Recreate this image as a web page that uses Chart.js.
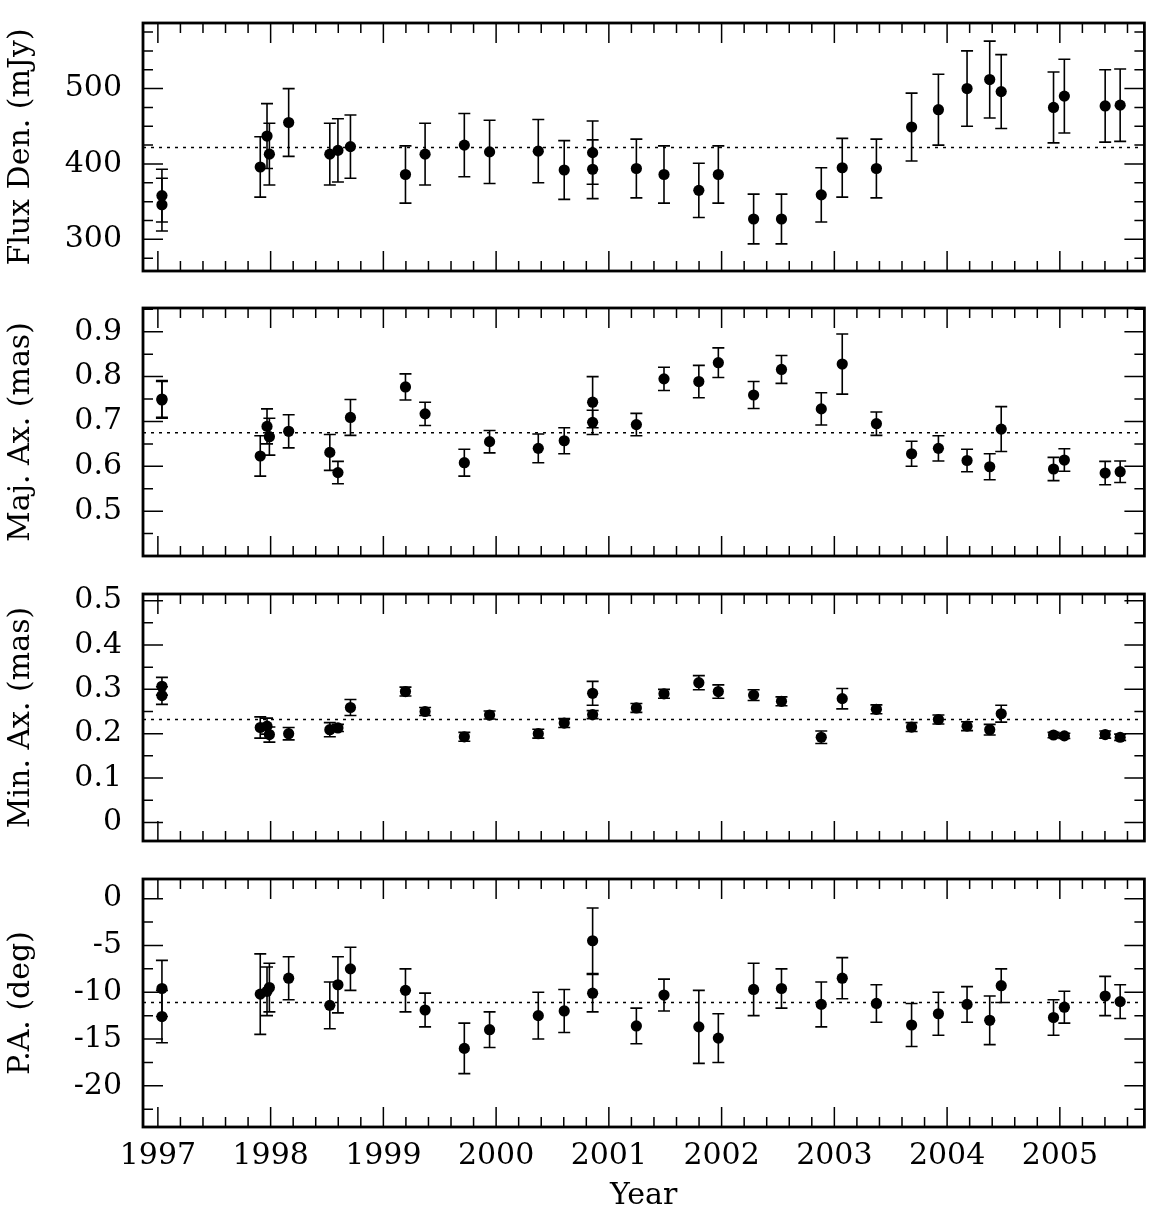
<!DOCTYPE html>
<html>
<head>
<meta charset="utf-8">
<script src="https://cdn.jsdelivr.net/npm/chart.js@4/dist/chart.umd.min.js"></script>
<style>
  body { margin: 0; background: #fff; }
  #wrap { position: relative; width: 1150px; height: 1214px; }
  #wrap canvas { position: absolute; left: 0; }
</style>
</head>
<body>
<div id="wrap">
  <canvas id="fluxChart" width="1150" height="290" style="top:0px"></canvas>
  <canvas id="majChart" width="1150" height="285" style="top:290px"></canvas>
  <canvas id="minChart" width="1150" height="285" style="top:575px"></canvas>
  <canvas id="paChart" width="1150" height="354" style="top:860px"></canvas>
</div>
<script>
// observing epochs (decimal year), shared by all four panels
var epochs = [1997.036, 1997.036, 1997.908, 1997.968, 1997.989, 1998.160, 1998.525, 1998.597, 1998.708,
  1999.196, 1999.370, 1999.718, 1999.942, 2000.374, 2000.604, 2000.856, 2000.856, 2001.244, 2001.489,
  2001.798, 2001.971, 2002.284, 2002.531, 2002.884, 2003.070, 2003.373, 2003.685, 2003.923, 2004.177,
  2004.378, 2004.480, 2004.944, 2005.040, 2005.402, 2005.535];

var fluxVal = [358, 346, 396, 437, 413, 455, 413, 418, 423, 386, 413, 425, 416, 417, 392, 415, 393, 394, 386,
  365, 386, 327, 327, 359, 395, 394, 449, 472, 500, 512, 496, 475, 490, 477, 478];
var fluxErr = [35, 35, 40, 43, 41, 45, 41, 42, 42, 38, 41, 42, 42, 42, 39, 42, 39, 39, 38,
  36, 38, 33, 33, 36, 39, 39, 45, 47, 50, 51, 49, 47, 49, 48, 48];

var majVal = [0.750, 0.748, 0.623, 0.689, 0.666, 0.678, 0.631, 0.586, 0.709, 0.777, 0.717, 0.608, 0.655, 0.640,
  0.657, 0.743, 0.698, 0.693, 0.795, 0.789, 0.831, 0.759, 0.816, 0.728, 0.828, 0.695, 0.628, 0.640, 0.613,
  0.599, 0.683, 0.594, 0.614, 0.585, 0.588];
var majErr = [0.041, 0.041, 0.045, 0.039, 0.041, 0.037, 0.040, 0.025, 0.040, 0.029, 0.026, 0.030, 0.025, 0.032,
  0.029, 0.057, 0.027, 0.025, 0.026, 0.036, 0.033, 0.030, 0.031, 0.036, 0.067, 0.026, 0.028, 0.028, 0.025,
  0.029, 0.050, 0.026, 0.025, 0.026, 0.024];

var minVal = [0.307, 0.286, 0.214, 0.217, 0.198, 0.200, 0.209, 0.213, 0.259, 0.295, 0.250, 0.193, 0.242, 0.200,
  0.224, 0.291, 0.243, 0.258, 0.290, 0.315, 0.295, 0.287, 0.273, 0.192, 0.279, 0.255, 0.215, 0.232, 0.217,
  0.209, 0.245, 0.197, 0.195, 0.198, 0.192];
var minErr = [0.020, 0.020, 0.024, 0.018, 0.017, 0.014, 0.016, 0.008, 0.018, 0.010, 0.009, 0.010, 0.009, 0.010,
  0.010, 0.027, 0.009, 0.010, 0.010, 0.016, 0.015, 0.012, 0.010, 0.014, 0.023, 0.010, 0.010, 0.010, 0.010,
  0.012, 0.019, 0.006, 0.006, 0.008, 0.007];

var paVal = [-9.6, -12.6, -10.2, -9.9, -9.5, -8.5, -11.4, -9.2, -7.5, -9.8, -11.9, -16.0, -14.0, -12.5,
  -12.0, -4.5, -10.1, -13.6, -10.3, -13.7, -14.9, -9.7, -9.6, -11.3, -8.5, -11.2, -13.5, -12.3, -11.3,
  -13.0, -9.3, -12.7, -11.6, -10.4, -11.0];
var paErr = [3.0, 2.8, 4.3, 2.6, 2.6, 2.3, 2.5, 3.0, 2.3, 2.3, 1.8, 2.7, 1.9, 2.5,
  2.3, 3.5, 2.0, 1.9, 1.7, 3.9, 2.6, 2.8, 2.1, 2.4, 2.2, 2.0, 2.3, 2.3, 1.9,
  2.6, 1.8, 1.9, 1.7, 2.1, 1.8];

// mean levels (dotted lines)
var fluxMean = 422;
var majMean = 0.675;
var minMean = 0.232;
var paMean = -11.1;

// tick labels
var yearTicks = [1997, 1998, 1999, 2000, 2001, 2002, 2003, 2004, 2005];
var fluxTicks = [300, 400, 500];
var majTicks = [0.5, 0.6, 0.7, 0.8, 0.9];
var minTicks = [0, 0.1, 0.2, 0.3, 0.4, 0.5];
var paTicks = [-20, -15, -10, -5, 0];

var xMin = 1996.868, xMax = 2005.75;
var fontFam = "'DejaVu Serif', serif";
var fontSize = 30;
Chart.defaults.color = '#000';

// frame with inward ticks on all four sides + error bars
var framePlugin = {
    id: 'frame',
    beforeDatasetsDraw: function (chart, args, opts) {
        var ctx = chart.ctx;
        var xs = chart.scales.x, ys = chart.scales.y;
        ctx.save();
        ctx.strokeStyle = '#000';
        ctx.lineWidth = 1.6;
        for (var i = 0; i < epochs.length; i++) {
            var px = xs.getPixelForValue(epochs[i]);
            var top = ys.getPixelForValue(opts.vals[i] + opts.errs[i]);
            var bot = ys.getPixelForValue(opts.vals[i] - opts.errs[i]);
            ctx.beginPath();
            ctx.moveTo(px, top); ctx.lineTo(px, bot);
            ctx.moveTo(px - 6, top); ctx.lineTo(px + 6, top);
            ctx.moveTo(px - 6, bot); ctx.lineTo(px + 6, bot);
            ctx.stroke();
        }
        ctx.restore();
    },
    afterDraw: function (chart, args, opts) {
        var ctx = chart.ctx;
        var a = chart.chartArea;
        var xs = chart.scales.x, ys = chart.scales.y;
        ctx.save();
        ctx.strokeStyle = '#000';
        ctx.lineWidth = 1.5;
        ctx.beginPath();
        var k, p;
        // x minor ticks every 0.2 yr
        for (k = Math.ceil(xMin / 0.2); k <= Math.floor(xMax / 0.2); k++) {
            p = xs.getPixelForValue(k * 0.2);
            ctx.moveTo(p, a.top); ctx.lineTo(p, a.top + 10);
            ctx.moveTo(p, a.bottom); ctx.lineTo(p, a.bottom - 10);
        }
        yearTicks.forEach(function (yr) {
            p = xs.getPixelForValue(yr);
            ctx.moveTo(p, a.top); ctx.lineTo(p, a.top + 20);
            ctx.moveTo(p, a.bottom); ctx.lineTo(p, a.bottom - 20);
        });
        // y minor ticks
        for (k = Math.ceil(ys.min / opts.minor - 1e-6); k * opts.minor <= ys.max; k++) {
            p = ys.getPixelForValue(k * opts.minor);
            ctx.moveTo(a.left, p); ctx.lineTo(a.left + 10, p);
            ctx.moveTo(a.right, p); ctx.lineTo(a.right - 10, p);
        }
        opts.major.forEach(function (val) {
            p = ys.getPixelForValue(val);
            ctx.moveTo(a.left, p); ctx.lineTo(a.left + 20, p);
            ctx.moveTo(a.right, p); ctx.lineTo(a.right - 20, p);
        });
        ctx.stroke();
        ctx.lineWidth = 2.8;
        ctx.strokeRect(a.left, a.top, a.right - a.left, a.bottom - a.top);
        ctx.restore();
    }
};

function makePanel(id, vals, errs, mean, yMin, yMax, yTicks, yMinor, yTitle, showX, padTop, padBottom) {
    var pts = [];
    for (var i = 0; i < epochs.length; i++) {
        pts.push({ x: epochs[i], y: vals[i] });
    }
    return new Chart(document.getElementById(id).getContext('2d'), {
        type: 'scatter',
        data: {
            datasets: [{
                data: pts,
                pointRadius: 5.6,
                pointHoverRadius: 5.6,
                backgroundColor: '#000',
                borderWidth: 0
            }, {
                data: [{ x: xMin, y: mean }, { x: xMax, y: mean }],
                showLine: true,
                pointRadius: 0,
                borderColor: '#000',
                borderWidth: 1.5,
                borderDash: [3, 5]
            }]
        },
        options: {
            responsive: false,
            animation: false,
            layout: { padding: { top: padTop, bottom: padBottom, left: 0, right: 0 } },
            plugins: {
                legend: { display: false },
                tooltip: { enabled: false },
                frame: { vals: vals, errs: errs, minor: yMinor, major: yTicks }
            },
            scales: {
                x: {
                    type: 'linear',
                    min: xMin,
                    max: xMax,
                    display: showX,
                    grid: { display: false, drawTicks: false },
                    border: { display: false },
                    afterBuildTicks: function (scale) {
                        scale.ticks = yearTicks.map(function (v) { return { value: v }; });
                    },
                    afterFit: function (scale) {
                        if (showX) { scale.height = 87; }
                        scale.paddingLeft = 0; scale.paddingRight = 0;
                    },
                    ticks: {
                        autoSkip: false,
                        maxRotation: 0,
                        padding: 11,
                        font: { family: fontFam, size: fontSize },
                        callback: function (v) { return String(v); }
                    },
                    title: {
                        display: true,
                        text: 'Year',
                        font: { family: fontFam, size: fontSize },
                        padding: { top: 0, bottom: 0 }
                    }
                },
                y: {
                    min: yMin,
                    max: yMax,
                    grid: { display: false, drawTicks: false },
                    border: { display: false },
                    afterBuildTicks: function (scale) {
                        scale.ticks = yTicks.map(function (v) { return { value: v }; });
                    },
                    afterFit: function (scale) {
                        scale.width = 143;
                        scale.paddingTop = 0; scale.paddingBottom = 0;
                    },
                    ticks: {
                        padding: 21,
                        font: { family: fontFam, size: fontSize },
                        callback: function (v) { return String(v); }
                    },
                    title: {
                        display: true,
                        text: yTitle,
                        font: { family: fontFam, size: fontSize },
                        padding: { top: 3, bottom: 0 }
                    }
                }
            }
        },
        plugins: [framePlugin]
    });
}

makePanel('fluxChart', fluxVal, fluxErr, fluxMean, 258, 587, fluxTicks, 25, 'Flux Den. (mJy)', false, 23, 19);
makePanel('majChart', majVal, majErr, majMean, 0.4, 0.953, majTicks, 0.05, 'Maj. Ax. (mas)', false, 18, 19);
makePanel('minChart', minVal, minErr, minMean, -0.042, 0.515, minTicks, 0.05, 'Min. Ax. (mas)', false, 19, 19);
makePanel('paChart', paVal, paErr, paMean, -24.4, 2.1, paTicks, 2.5, 'P.A. (deg)', true, 19, 0);
</script>
</body>
</html>
